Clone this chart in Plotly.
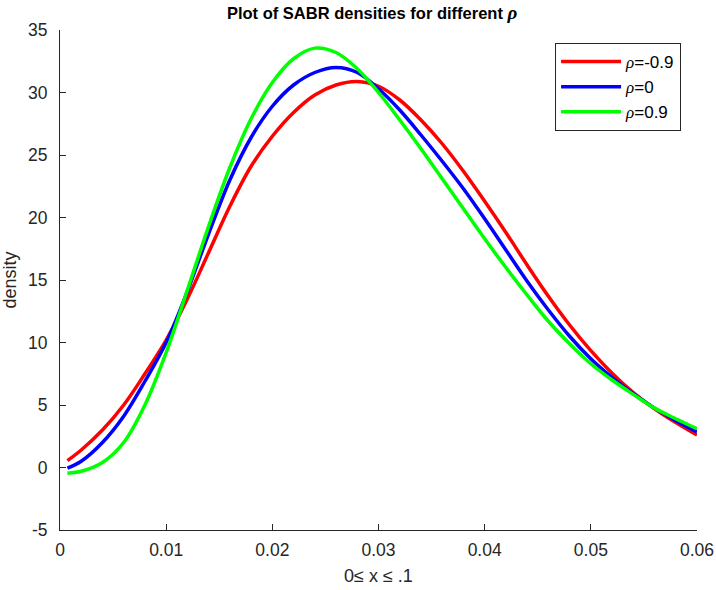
import plotly.graph_objects as go

x_vals = [0.0007, 0.002, 0.004, 0.006, 0.008, 0.010, 0.012, 0.014, 0.016, 0.018,
          0.020, 0.022, 0.024, 0.026, 0.028, 0.030, 0.032, 0.034, 0.036, 0.038,
          0.040, 0.042, 0.044, 0.046, 0.048, 0.050, 0.052, 0.054, 0.056, 0.058, 0.060]

rho_m09 = [0.55, 1.4, 3.0, 5.0, 7.5, 10.2, 13.5, 17.2, 20.9, 24.1,
           26.5, 28.4, 29.8, 30.6, 30.88, 30.5, 29.4, 27.8, 25.9, 23.7,
           21.3, 18.8, 16.2, 13.7, 11.4, 9.35, 7.55, 6.0, 4.7, 3.6, 2.6]

rho_0 = [-0.05, 0.5, 2.0, 4.1, 6.9, 10.0, 14.1, 18.7, 23.0, 26.4,
         28.9, 30.6, 31.6, 32.0, 31.6, 30.3, 28.6, 26.6, 24.5, 22.3,
         19.9, 17.4, 14.9, 12.6, 10.5, 8.7, 7.2, 5.9, 4.75, 3.75, 2.85]

rho_p09 = [-0.45, -0.3, 0.4, 2.0, 5.0, 9.2, 14.2, 19.3, 24.0, 27.9,
           30.8, 32.7, 33.55, 33.2, 31.9, 30.0, 27.8, 25.5, 23.1, 20.7,
           18.3, 16.0, 13.8, 11.7, 9.9, 8.3, 7.0, 5.85, 4.75, 3.9, 3.1]

RHO = "<span style='font-family:\"Liberation Serif\", \"Times New Roman\", serif'><i>ρ</i></span>"

series = [
    (RHO + "=-0.9", rho_m09, "#ff0000"),
    (RHO + "=0", rho_0, "#0000ff"),
    (RHO + "=0.9", rho_p09, "#00ff00"),
]

x_ticks = [0, 0.01, 0.02, 0.03, 0.04, 0.05, 0.06]
x_tick_labels = ["0", "0.01", "0.02", "0.03", "0.04", "0.05", "0.06"]
y_ticks = [-5, 0, 5, 10, 15, 20, 25, 30, 35]
y_tick_labels = ["-5", "0", "5", "10", "15", "20", "25", "30", "35"]

fig = go.Figure()
for name, ys, col in series:
    fig.add_trace(go.Scatter(x=x_vals, y=ys, mode="lines", name=name,
                             line=dict(color=col, width=3.5, shape="spline", smoothing=1.0)))

axis_col = "#262626"
fig.update_layout(
    width=716, height=590,
    margin=dict(l=60, r=19, t=30, b=60),
    paper_bgcolor="white", plot_bgcolor="white",
    font=dict(family="Liberation Sans, Arial, sans-serif", size=17, color=axis_col),
    title=dict(text="<b>Plot of SABR densities for different </b>"
                    "<span style='font-family:\"Liberation Serif\", serif; font-size:19px'><b><i>ρ</i></b></span>",
               x=0.49, xref="paper", xanchor="center", y=0.978, yanchor="middle",
               font=dict(size=16.5, color="black")),
    showlegend=True,
    legend=dict(x=0.975, y=0.974, xanchor="right", yanchor="top",
                bgcolor="white", bordercolor="#262626", borderwidth=1,
                font=dict(size=17, color="black"), itemwidth=60),
    xaxis=dict(range=[0, 0.06], tickvals=x_ticks, ticktext=x_tick_labels,
               showgrid=False, zeroline=False, showline=True, linecolor=axis_col,
               linewidth=1, ticks="inside", ticklen=6, tickcolor=axis_col,
               automargin=False, ticklabelstandoff=4,
               title=dict(text="0≤ x ≤ .1", font=dict(size=18, color=axis_col), standoff=10),
               tickfont=dict(size=17.5, color=axis_col)),
    yaxis=dict(range=[-5, 35], tickvals=y_ticks, ticktext=y_tick_labels,
               showgrid=False, zeroline=False, showline=True, linecolor=axis_col,
               linewidth=1, ticks="inside", ticklen=6, tickcolor=axis_col,
               automargin=False, ticklabelstandoff=8,
               title=dict(text="density", font=dict(size=18, color=axis_col), standoff=6),
               tickfont=dict(size=17.5, color=axis_col)),
)

fig.write_html("out.html")
